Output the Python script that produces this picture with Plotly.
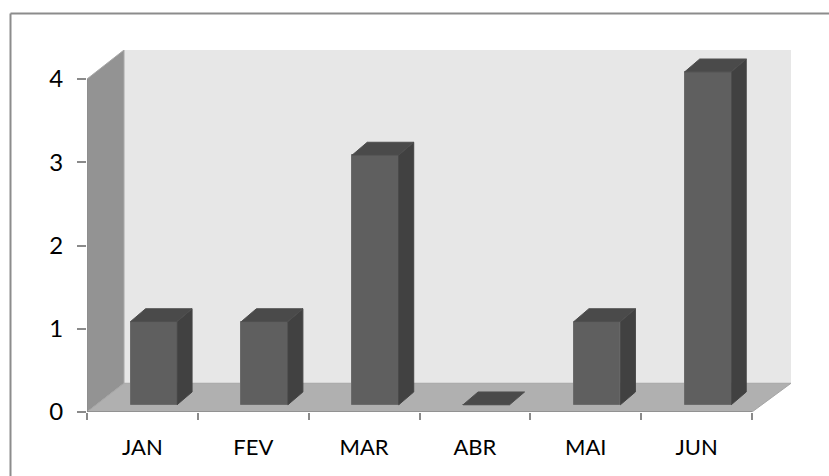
import plotly.graph_objects as go

months = ["JAN", "FEV", "MAR", "ABR", "MAI", "JUN"]
values = [1, 1, 3, 0, 1, 4]
y_ticks = [0, 1, 2, 3, 4]

W, H = 829, 476
L, R, T, B = 87, 791, 50, 411.7
AX_R = 752
cat_px = (AX_R - L) / len(months)
unit_px = (B - 79) / 4

def px_x(p):
    return (p - L) / cat_px - 0.5

def px_y(p):
    return (B - p) / unit_px

def dx(p):
    return p / cat_px

def dy(p):
    return p / unit_px

def paper_x(p):
    return (p - L) / (R - L)

def paper_y(p):
    return (B - p) / (B - T)

xr = [px_x(L), px_x(R)]
yr = [px_y(B), px_y(T)]

bar_w = dx(46.5)
bar_off = dx(11.4)
base = dy(7.2)
side_x = dx(15)
side_y = dy(12.8)

fig = go.Figure()

# front faces
fig.add_bar(
    x=[i + bar_off for i in range(len(months))],
    y=values,
    base=[base] * len(months),
    width=bar_w,
    marker=dict(color="#5f5f5f", line=dict(color="#6b6b6b", width=1)),
    hoverinfo="skip",
    showlegend=False,
)

# side and top faces
for i, v in enumerate(values):
    x0 = i + bar_off - bar_w / 2
    x1 = i + bar_off + bar_w / 2
    y0 = base
    y1 = base + v
    if v > 0:
        fig.add_scatter(
            x=[x1, x1 + side_x, x1 + side_x, x1, x1],
            y=[y0, y0 + side_y, y1 + side_y, y1, y0],
            mode="lines", fill="toself", fillcolor="#414141",
            line=dict(color="#454545", width=1),
            hoverinfo="skip", showlegend=False,
        )
    fig.add_scatter(
        x=[x0, x1, x1 + side_x, x0 + side_x, x0],
        y=[y1, y1, y1 + side_y, y1 + side_y, y1],
        mode="lines", fill="toself", fillcolor="#4a4a4a",
        line=dict(color="#4f4f4f", width=1),
        hoverinfo="skip", showlegend=False,
    )

def poly(points):
    return "M " + " L ".join(f"{a},{b}" for a, b in points) + " Z"

shapes = [
    # back wall
    dict(type="path", xref="x", yref="y", layer="below", fillcolor="#e7e7e7",
         line=dict(width=0),
         path=poly([(px_x(124), px_y(50)), (px_x(791), px_y(50)),
                    (px_x(791), px_y(383)), (px_x(124), px_y(383))])),
    # left wall
    dict(type="path", xref="x", yref="y", layer="below", fillcolor="#939393",
         line=dict(color="#a8a8a8", width=1),
         path=poly([(px_x(87), px_y(79)), (px_x(124), px_y(50)),
                    (px_x(124), px_y(383)), (px_x(87), px_y(411.7))])),
    # floor
    dict(type="path", xref="x", yref="y", layer="below", fillcolor="#b0b0b0",
         line=dict(color="#a6a6a6", width=1),
         path=poly([(px_x(87), px_y(411.7)), (px_x(752), px_y(411.7)),
                    (px_x(791), px_y(383)), (px_x(124), px_y(383))])),
    # axis baseline and left edge
    dict(type="line", xref="x", yref="y", layer="below", line=dict(color="#8a8a8a", width=1.5),
         x0=px_x(87), x1=px_x(752), y0=px_y(411.7), y1=px_y(411.7)),
    dict(type="line", xref="x", yref="y", layer="below", line=dict(color="#8a8a8a", width=1.5),
         x0=px_x(87), x1=px_x(87), y0=px_y(79), y1=px_y(411.7)),
    # chart frame (cropped at the right and bottom of the picture)
    dict(type="line", xref="paper", yref="paper", line=dict(color="#8c8c8c", width=2),
         x0=paper_x(10.5), x1=paper_x(10.5), y0=paper_y(13.5), y1=paper_y(H)),
    dict(type="line", xref="paper", yref="paper", line=dict(color="#8c8c8c", width=2),
         x0=paper_x(10.5), x1=paper_x(W), y0=paper_y(13.5), y1=paper_y(13.5)),
]

fig.update_layout(
    width=W, height=H,
    margin=dict(l=L, r=W - R, t=T, b=H - B, autoexpand=False),
    paper_bgcolor="white", plot_bgcolor="rgba(0,0,0,0)",
    showlegend=False, bargap=0,
    font=dict(family="Lato, Carlito, sans-serif", size=22, color="#000000"),
    shapes=shapes,
    xaxis=dict(
        range=xr, tickmode="array",
        tickvals=list(range(len(months))), ticktext=months,
        ticks="", showgrid=False, zeroline=False, showline=False,
        tickfont=dict(size=22),
        ticklabelstandoff=20,
        minor=dict(
            tickmode="array",
            tickvals=[i - 0.5 for i in range(len(months) + 1)],
            ticks="outside", ticklen=7, tickwidth=1.5, tickcolor="#8a8a8a",
            showgrid=False,
        ),
    ),
    yaxis=dict(
        range=yr, tickmode="array", tickvals=y_ticks,
        ticks="outside", ticklen=9, tickwidth=1.5, tickcolor="#8a8a8a",
        showgrid=False, zeroline=False, showline=False,
        tickfont=dict(size=24),
        ticklabelstandoff=9,
    ),
)

fig.write_html("out.html", post_script="document.body.style.margin='0';",
               config=dict(displayModeBar=False))
